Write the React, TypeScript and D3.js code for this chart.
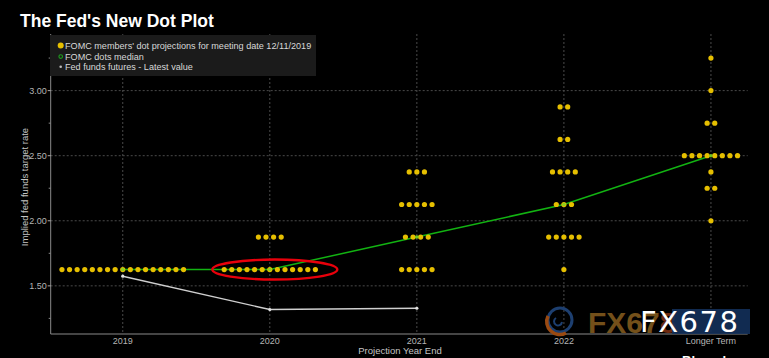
import React from "react";
import * as d3 from "d3";

const categories = ["2019", "2020", "2021", "2022", "Longer Term"];

// FOMC dot projections: category, rate level, number of members
const dotCategory = ["2019", "2020", "2020", "2021", "2021", "2021", "2021", "2022", "2022", "2022", "2022", "2022", "2022", "Longer Term", "Longer Term", "Longer Term", "Longer Term", "Longer Term", "Longer Term", "Longer Term"];
const dotRate = [1.625, 1.875, 1.625, 2.375, 2.125, 1.875, 1.625, 2.875, 2.625, 2.375, 2.125, 1.875, 1.625, 3.25, 3.0, 2.75, 2.5, 2.375, 2.25, 2.0];
const dotCount = [17, 4, 13, 3, 5, 4, 5, 2, 2, 4, 3, 5, 1, 1, 1, 2, 8, 1, 2, 1];

const medianValues = [1.625, 1.625, 1.875, 2.125, 2.5];

const futuresCategories = ["2019", "2020", "2021"];
const futuresValues = [1.574, 1.318, 1.328];

const yMajorTicks = [1.5, 2.0, 2.5, 3.0];
const yMinorTicks = [1.25, 1.75, 2.25, 2.75, 3.25];

const W = 769;
const H = 358;
const left = 50.7;
const right = 747.7;
const top = 34;
const bottom = 334;

const FONT = "'Liberation Sans', Arial, sans-serif";

export default function App() {
  const x = d3.scaleLinear().domain([-0.49, 4.25]).range([left, right]);
  const y = d3.scaleLinear().domain([1.13, 3.435]).range([bottom, top]);
  const xc = (c: string) => x(categories.indexOf(c));
  const spacing = 7.6;

  const dots: { cx: number; cy: number }[] = [];
  dotCategory.forEach((c, i) => {
    const n = dotCount[i];
    for (let k = 0; k < n; k++) {
      dots.push({ cx: xc(c) + (k - (n - 1) / 2) * spacing, cy: y(dotRate[i]) });
    }
  });

  const line = d3
    .line<[number, number]>()
    .x((d) => d[0])
    .y((d) => d[1]);
  const medianPts: [number, number][] = categories.map((c, i) => [xc(c), y(medianValues[i])]);
  const futuresPts: [number, number][] = futuresCategories.map((c, i) => [xc(c), y(futuresValues[i])]);

  if (typeof document !== "undefined") {
    document.body.style.background = "#000";
    document.body.style.margin = "0";
  }

  return (
    <svg
      width={W}
      height={H}
      style={{ position: "fixed", left: 0, top: 0, background: "#000" }}
      fontFamily={FONT}
    >
      <rect x={0} y={0} width={W} height={H} fill="#000" />
      {/* title */}
      <text x={20} y={27} fill="#fff" fontSize={17.5} fontWeight="bold">
        The Fed's New Dot Plot
      </text>

      {/* gridlines */}
      {yMajorTicks.map((t) => (
        <line key={"gy" + t} x1={left} x2={right} y1={y(t)} y2={y(t)} stroke="#4a4a4a" strokeDasharray="2,2" />
      ))}
      {categories.map((c) => (
        <line key={"gx" + c} x1={xc(c)} x2={xc(c)} y1={top} y2={bottom} stroke="#4a4a4a" strokeDasharray="2,2" />
      ))}

      {/* axes */}
      <line x1={left} x2={left} y1={top} y2={bottom} stroke="#8a8a8a" />
      <line x1={left} x2={right} y1={bottom} y2={bottom} stroke="#8a8a8a" />
      {yMajorTicks.map((t) => (
        <g key={"yt" + t}>
          <line x1={left - 3} x2={left} y1={y(t)} y2={y(t)} stroke="#aaa" />
          <text x={left - 4} y={y(t) + 3} fill="#b4b4b4" fontSize={9} textAnchor="end">
            {t.toFixed(2)}
          </text>
        </g>
      ))}
      {yMinorTicks.map((t) => (
        <line key={"ym" + t} x1={left - 2} x2={left} y1={y(t)} y2={y(t)} stroke="#888" />
      ))}
      {categories.map((c) => (
        <text key={"xl" + c} x={xc(c)} y={343.5} fill="#b4b4b4" fontSize={9} textAnchor="middle">
          {c}
        </text>
      ))}
      <text x={400} y={354} fill="#c4c4c4" fontSize={9.5} textAnchor="middle">
        Projection Year End
      </text>
      <text
        transform={`translate(28,${(top + bottom) / 2 + 3}) rotate(-90)`}
        fill="#c4c4c4"
        fontSize={9.5}
        textAnchor="middle"
      >
        Implied fed funds target rate
      </text>

      {/* futures line */}
      <path d={line(futuresPts) || ""} fill="none" stroke="#cfcfcf" strokeWidth={1.4} />
      {futuresPts.map((p, i) => (
        <circle key={"fp" + i} cx={p[0]} cy={p[1]} r={1.6} fill="#e0e0e0" />
      ))}

      {/* median line */}
      <path d={line(medianPts) || ""} fill="none" stroke="#12b312" strokeWidth={1.5} />

      {/* dots */}
      {dots.map((d, i) => (
        <circle key={"d" + i} cx={d.cx} cy={d.cy} r={2.6} fill="#e6bf00" />
      ))}
      {medianPts.map((p, i) => (
        <circle key={"mp" + i} cx={p[0]} cy={p[1]} r={1.8} fill="#7ed321" opacity={0.85} />
      ))}

      {/* red annotation ellipse */}
      <ellipse cx={xc("2020") + 5} cy={y(1.625)} rx={62.5} ry={10} fill="none" stroke="#e8000b" strokeWidth={2.4} />

      {/* legend */}
      <rect x={50} y={35} width={266} height={41} fill="#1b1b1b" />
      <circle cx={60.7} cy={45.6} r={3} fill="#e6bf00" />
      <circle cx={60.7} cy={56.6} r={1.8} fill="none" stroke="#1fa01f" strokeWidth={1.1} />
      <circle cx={60.7} cy={66.8} r={1.3} fill="#bbb" />
      <text x={65} y={49} fill="#d8d8d8" fontSize={9.1}>
        FOMC members' dot projections for meeting date 12/11/2019
      </text>
      <text x={65} y={60} fill="#d8d8d8" fontSize={9.1}>
        FOMC dots median
      </text>
      <text x={65} y={70.3} fill="#d8d8d8" fontSize={9.1}>
        Fed funds futures - Latest value
      </text>

      {/* watermark */}
      <g>
        <circle cx={560} cy={320} r={12} fill="none" stroke="#1d3f70" strokeWidth={3} />
        <path d="M 548 316 A 13 13 0 0 0 566 333" fill="none" stroke="#9a4a12" strokeWidth={3.5} />
        <path d="M 556 318 A 4 4 0 1 0 562 322" fill="none" stroke="#1d3f70" strokeWidth={2} />
        <text x={588} y={333} fill="#74501a" fontSize={30} fontWeight="bold" fontFamily="'Liberation Sans Narrow', 'Liberation Sans', sans-serif">
          FX67<tspan fill="#6e2a10">8</tspan>
        </text>
        <rect x={672} y={309} width={78} height={25} fill="#13305a" opacity={0.9} />
        <text x={640} y={332} fill="#ffffff" fontSize={29} fontFamily="'DejaVu Sans', sans-serif" letterSpacing={1.5}>
          FX678
        </text>
      </g>
      <text x={682} y={365} fill="#fff" fontSize={13} fontWeight="bold">
        Bloomberg
      </text>
    </svg>
  );
}
